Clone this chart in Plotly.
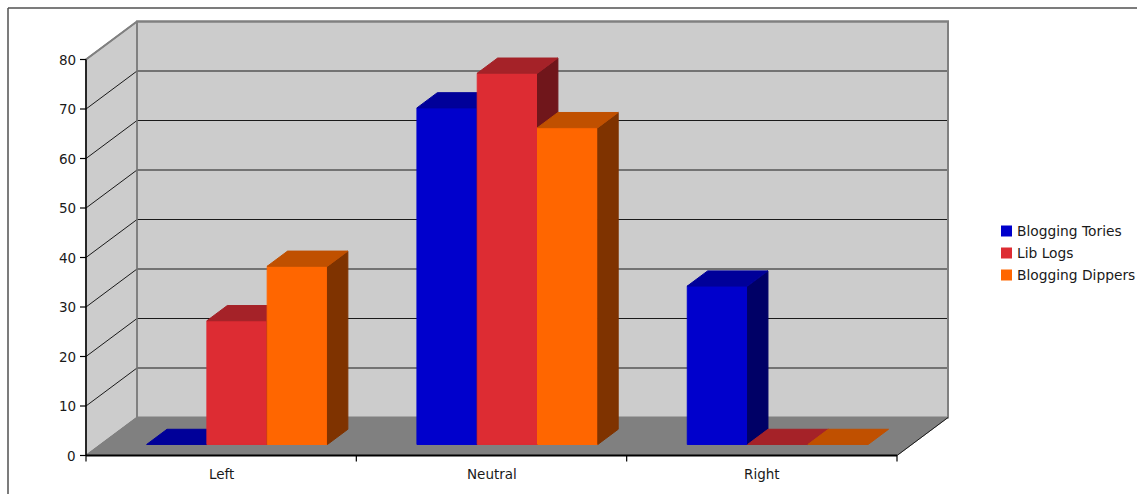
import plotly.graph_objects as go

# ---- data -------------------------------------------------------------
categories = ["Left", "Neutral", "Right"]
series_names = ["Blogging Tories", "Lib Logs", "Blogging Dippers"]
blogging_tories = [0, 68, 32]
lib_logs = [25, 75, 0]
blogging_dippers = [36, 64, 0]
y_ticks = [0, 10, 20, 30, 40, 50, 60, 70, 80]

# ---- styling ----------------------------------------------------------
series_values = [blogging_tories, lib_logs, blogging_dippers]
# (front, top, side) shades for each series
series_shades = [
    ("#0000CC", "#000099", "#000066"),
    ("#DD2C33", "#A52228", "#70161B"),
    ("#FF6600", "#C05000", "#7F3300"),
]
WALL = "#CCCCCC"
FLOOR = "#808080"
EDGE = "#808080"
GRID = "#1A1A1A"
TEXT = "#1A1A1A"
FONT = "DejaVu Sans"

FIG_W, FIG_H = 1137, 494
X0_PX, Y0_PX = 86.0, 455.5          # screen position of category 0 / value 0
CAT_PX = 811.0 / len(categories)    # pixels per category
UNIT_PX = 396.0 / 80.0              # pixels per value unit
DEPTH_DX_PX, DEPTH_DY_PX = 51.0, 38.0
KX = DEPTH_DX_PX / CAT_PX           # depth shift in category units
KY = DEPTH_DY_PX / UNIT_PX          # depth shift in value units
Y_MAX = 80

BAR_W = 0.223                        # bar width in category units
Z_FRONT, Z_BACK = 0.29, 0.69         # bar depth slot (0 = front, 1 = back wall)


def proj(x, v, z):
    """Oblique projection of (category, value, depth) onto the 2-D axes."""
    return x + z * KX, v + z * KY


def px_x(p):
    return (p - X0_PX) / CAT_PX


def px_y(p):
    return (Y0_PX - p) / UNIT_PX


fig = go.Figure()


def poly(points, fill, line=None, width=1.0):
    xs, ys = zip(*[proj(*p) for p in points])
    xs = list(xs) + [xs[0]]
    ys = list(ys) + [ys[0]]
    fig.add_trace(go.Scatter(
        x=xs, y=ys, mode="lines", fill="toself", fillcolor=fill,
        line=dict(color=line or fill, width=width),
        hoverinfo="skip", showlegend=False))


def seg(points, color, width=1.0):
    xs, ys = zip(*[proj(*p) for p in points])
    fig.add_trace(go.Scatter(
        x=list(xs), y=list(ys), mode="lines",
        line=dict(color=color, width=width),
        hoverinfo="skip", showlegend=False))


n_cat = len(categories)

# walls and floor
poly([(0, 0, 0), (0, 0, 1), (0, Y_MAX, 1), (0, Y_MAX, 0)], WALL, EDGE, 1.5)
poly([(0, 0, 1), (n_cat, 0, 1), (n_cat, Y_MAX, 1), (0, Y_MAX, 1)], WALL, EDGE, 2)
poly([(0, 0, 0), (n_cat, 0, 0), (n_cat, 0, 1), (0, 0, 1)], FLOOR, FLOOR, 1)

# gridlines on the left and back walls
for t in y_ticks[1:-1]:
    seg([(0, t, 0), (0, t, 1), (n_cat, t, 1)], GRID, 1)

# wall outlines redrawn on top of gridlines
seg([(0, Y_MAX, 0), (0, Y_MAX, 1), (n_cat, Y_MAX, 1), (n_cat, 0, 1)], EDGE, 2)
seg([(0, 0, 1), (0, Y_MAX, 1)], EDGE, 1.5)
seg([(0, 0, 0), (0, 0, 1)], EDGE, 1.2)

# bars, drawn left to right so nearer faces cover hidden ones
group_start = 0.5 - 1.5 * BAR_W + 0.004
for ci in range(n_cat):
    for si, vals in enumerate(series_values):
        v = vals[ci]
        front, top, side = series_shades[si]
        x0 = ci + group_start + si * BAR_W
        x1 = x0 + BAR_W
        if v > 0:
            poly([(x0, 0, Z_FRONT), (x1, 0, Z_FRONT), (x1, v, Z_FRONT), (x0, v, Z_FRONT)], front)
            poly([(x1, 0, Z_FRONT), (x1, 0, Z_BACK), (x1, v, Z_BACK), (x1, v, Z_FRONT)], side)
        poly([(x0, v, Z_FRONT), (x1, v, Z_FRONT), (x1, v, Z_BACK), (x0, v, Z_BACK)], top)

# axes
seg([(n_cat, 0, 0), (n_cat, 0, 1)], GRID, 1)
seg([(0, 0, 0), (0, Y_MAX, 0)], "#000000", 1.5)
seg([(0, 0, 0), (n_cat, 0, 0)], "#000000", 2)

tick_len_x = 6.0 / CAT_PX
tick_len_y = 6.0 / UNIT_PX
for t in y_ticks:
    seg([(-tick_len_x, t, 0), (0, t, 0)], "#000000", 1.2)
for c in range(n_cat + 1):
    seg([(c, 0, 0), (c, -tick_len_y, 0)], "#000000", 1.2)

annotations = []
for t in y_ticks:
    annotations.append(dict(
        x=px_x(77.5), y=t, xref="x", yref="y", text=str(t), showarrow=False,
        xanchor="right", yanchor="middle", font=dict(size=13.5, color=TEXT, family=FONT)))
for i, c in enumerate(categories):
    annotations.append(dict(
        x=i + 0.5, y=px_y(474), xref="x", yref="y", text=c, showarrow=False,
        xanchor="center", yanchor="middle", font=dict(size=13.5, color=TEXT, family=FONT)))

# legend
shapes = []
for i, name in enumerate(series_names):
    cy = 231 + 22 * i
    shapes.append(dict(
        type="rect", xref="paper", yref="paper",
        x0=1001 / FIG_W, x1=1012 / FIG_W,
        y0=1 - (cy + 5.5) / FIG_H, y1=1 - (cy - 5.5) / FIG_H,
        fillcolor=series_shades[i][0], line=dict(width=0)))
    annotations.append(dict(
        x=1015 / FIG_W, y=1 - cy / FIG_H, xref="paper", yref="paper", text=name,
        showarrow=False, xanchor="left", yanchor="middle",
        font=dict(size=13.8, color=TEXT, family=FONT)))

# chart-area frame (top and left edges)
shapes.append(dict(type="line", xref="paper", yref="paper",
                   x0=8 / FIG_W, x1=1.0, y0=1 - 8 / FIG_H, y1=1 - 8 / FIG_H,
                   line=dict(color="#505050", width=1.5)))
shapes.append(dict(type="line", xref="paper", yref="paper",
                   x0=8 / FIG_W, x1=8 / FIG_W, y0=0, y1=1 - 8 / FIG_H,
                   line=dict(color="#505050", width=1.5)))

fig.update_layout(
    width=FIG_W, height=FIG_H,
    margin=dict(l=0, r=0, t=0, b=0),
    paper_bgcolor="white", plot_bgcolor="white",
    showlegend=False,
    xaxis=dict(visible=False, range=[px_x(0), px_x(FIG_W)], fixedrange=True),
    yaxis=dict(visible=False, range=[px_y(FIG_H), px_y(0)], fixedrange=True),
    annotations=annotations, shapes=shapes,
    font=dict(family=FONT),
)

fig.write_html("out.html")
